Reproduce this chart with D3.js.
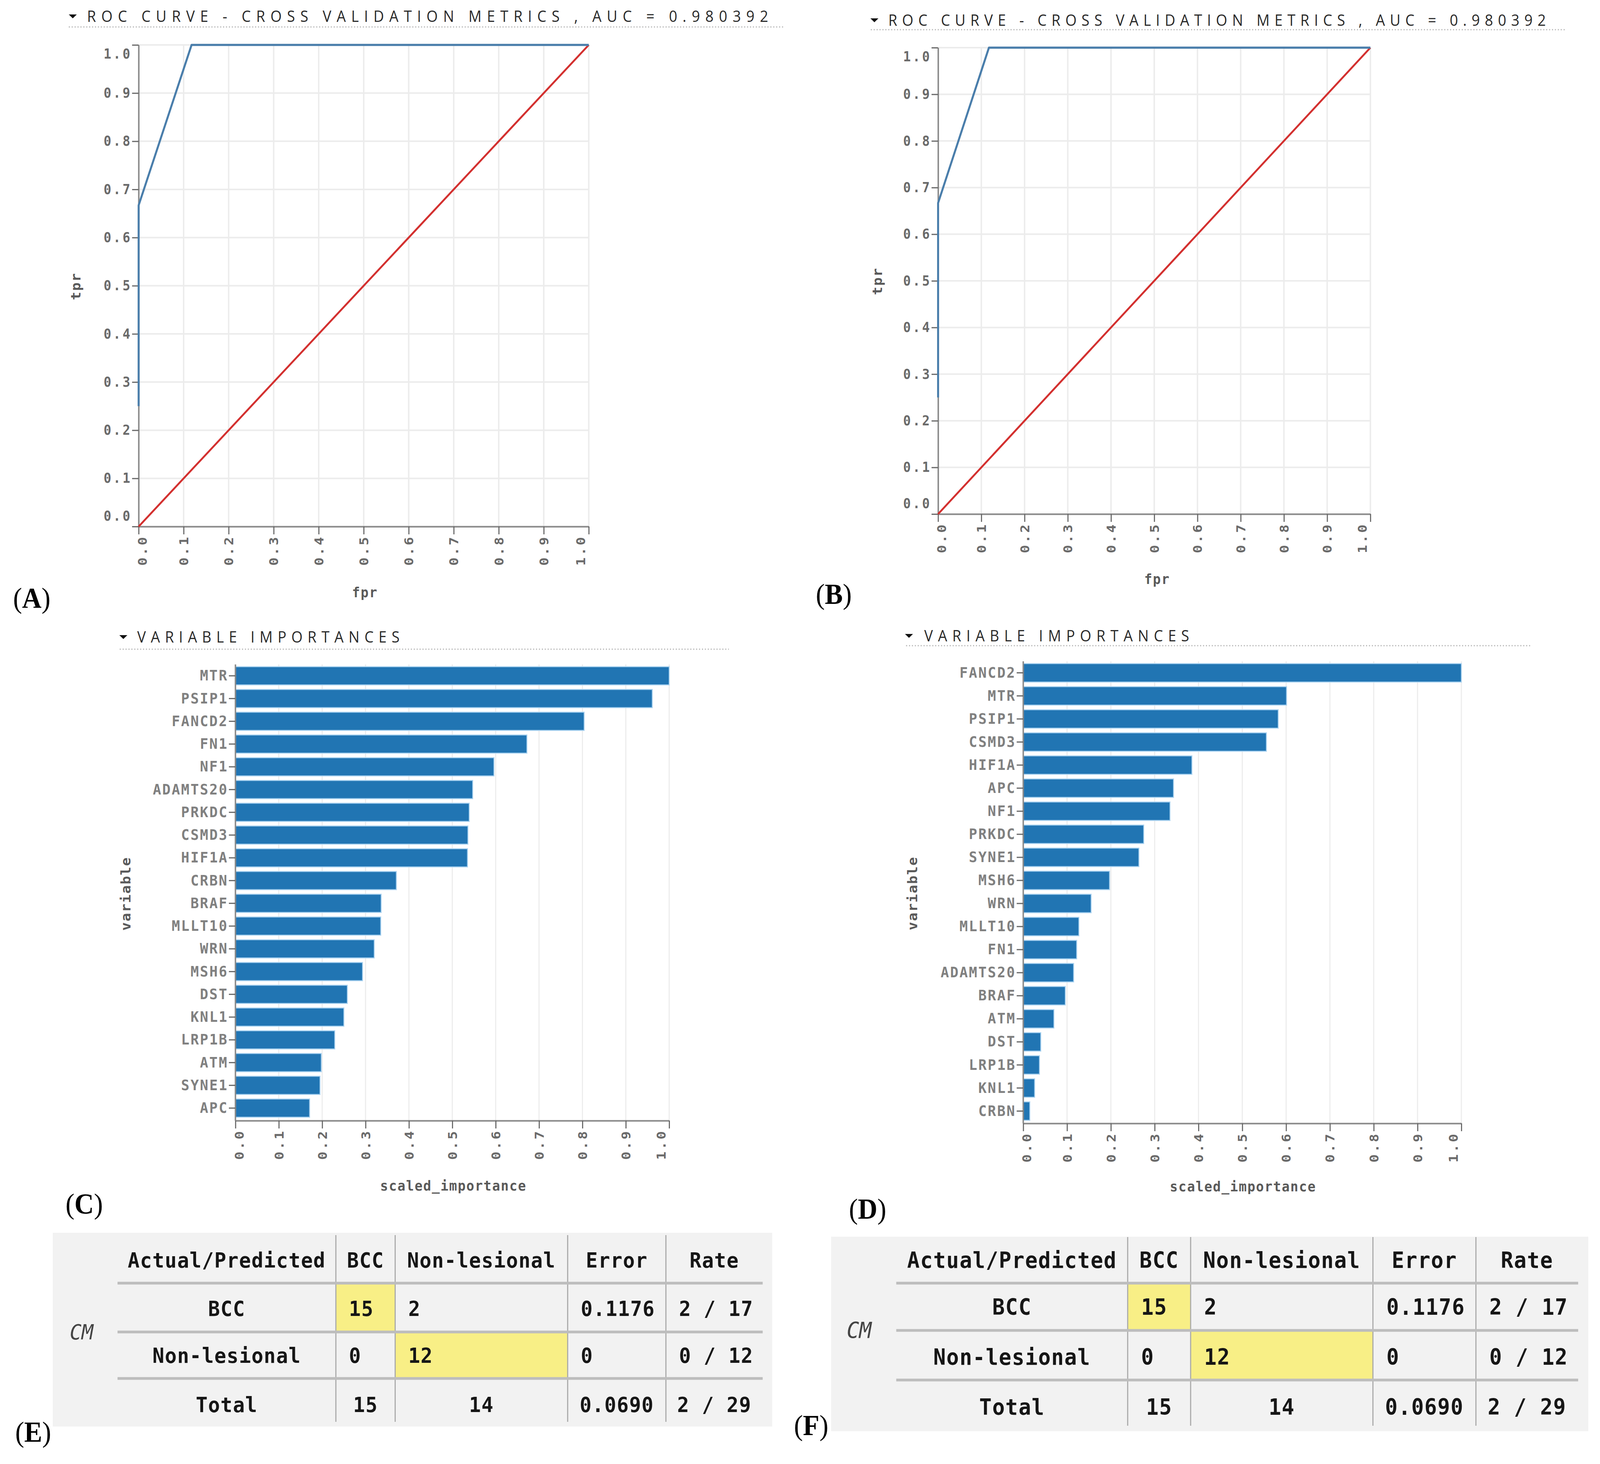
<!DOCTYPE html>
<html>
<head>
<meta charset="utf-8">
<script src="https://cdn.jsdelivr.net/npm/d3@7"></script>
<style>
  html, body { margin: 0; padding: 0; background: #fff; overflow: hidden; }
  svg { display: block; width: 100vw; height: 100vh; }
</style>
</head>
<body>
<svg id="figure"></svg>
<script>
// ---- data ----
const rocFprA = [0, 0, 0.1176, 1];
const rocTprA = [0.25, 0.667, 1, 1];
const rocFprB = [0, 0, 0.1176, 1];
const rocTprB = [0.25, 0.667, 1, 1];
const chanceFpr = [0, 1];
const chanceTpr = [0, 1];
const rocTitle = "ROC CURVE - CROSS VALIDATION METRICS , AUC = 0.980392";

const genesC = ["MTR", "PSIP1", "FANCD2", "FN1", "NF1", "ADAMTS20", "PRKDC", "CSMD3", "HIF1A", "CRBN",
                "BRAF", "MLLT10", "WRN", "MSH6", "DST", "KNL1", "LRP1B", "ATM", "SYNE1", "APC"];
const importanceC = [1.0, 0.961, 0.804, 0.672, 0.596, 0.547, 0.539, 0.536, 0.535, 0.371,
                     0.336, 0.335, 0.320, 0.293, 0.258, 0.250, 0.229, 0.198, 0.195, 0.171];
const genesD = ["FANCD2", "MTR", "PSIP1", "CSMD3", "HIF1A", "APC", "NF1", "PRKDC", "SYNE1", "MSH6",
                "WRN", "MLLT10", "FN1", "ADAMTS20", "BRAF", "ATM", "DST", "LRP1B", "KNL1", "CRBN"];
const importanceD = [1.0, 0.601, 0.582, 0.555, 0.385, 0.343, 0.335, 0.275, 0.264, 0.197,
                     0.155, 0.127, 0.122, 0.115, 0.096, 0.070, 0.040, 0.037, 0.026, 0.015];
const impTitle = "VARIABLE IMPORTANCES";

const cmHeader = ["Actual/Predicted", "BCC", "Non-lesional", "Error", "Rate"];
const cmRowBCC = ["BCC", "15", "2", "0.1176", "2 / 17"];
const cmRowNon = ["Non-lesional", "0", "12", "0", "0 / 12"];
const cmRowTotal = ["Total", "15", "14", "0.0690", "2 / 29"];
const cmHighlight = [[0, 1], [1, 2]];   // [data row, column] of the diagonal cells

// ---- layout ----
const W = 4397, H = 3748;
const mono = "'DejaVu Sans Mono', monospace";
const serif = "'Liberation Serif', 'Times New Roman', serif";

const rocA = {left: 381, right: 1618, top: 115, bottom: 1348,
  title: {tri: 200, x: 239, end: 2111, cy: 42, ux0: 189, ux1: 2156, uy: 69},
  yTitle: [209, 733], xTitle: [1003, 1517]};
const rocB = {left: 2578, right: 3766, top: 122, bottom: 1316,
  title: {tri: 2403, x: 2441, end: 4248, cy: 52, ux0: 2393, ux1: 4304, uy: 76},
  yTitle: [2411, 720], xTitle: [3180, 1483]};
const impC = {left: 647, right: 1839, top: 1701, bottom: 2866, axisY: 2869,
  title: {tri: 339, x: 377, end: 1098, cy: 1631, ux0: 329, ux1: 2003, uy: 1662},
  yTitle: [346, 2288], xTitle: [1246, 3036]};
const impD = {left: 2812, right: 4016, top: 1693, bottom: 2874, axisY: 2876,
  title: {tri: 2498, x: 2540, end: 3268, cy: 1628, ux0: 2490, ux1: 4206, uy: 1653},
  yTitle: [2508, 2287], xTitle: [3416, 3038]};
const tabE = {box: [145, 3156, 2122, 3652], cols: [323, 923, 1086, 1560, 1830, 2096],
  rowY: [3226, 3350, 3470, 3596], sepY: [3285, 3410, 3529], vTop: 3162, vBottom: 3640,
  cm: [224, 3410], fs: 54, ls: 1.5, pad: 36};
const tabF = {box: [2284, 3166, 4365, 3664], cols: [2463, 3099, 3272, 3773, 4056, 4337],
  rowY: [3226, 3346, 3474, 3602], sepY: [3285, 3406, 3533], vTop: 3167, vBottom: 3650,
  cm: [2361, 3406], fs: 57, ls: 1.7, pad: 37};
const tags = [
  {t: "A", x: 36, y: 1556}, {t: "B", x: 2242, y: 1546},
  {t: "C", x: 180, y: 3107}, {t: "D", x: 2333, y: 3120},
  {t: "E", x: 42, y: 3691}, {t: "F", x: 2182, y: 3674}
];

// the drawing is laid out in a 4397 x 3748 user space and stretched to the window
const svg = d3.select("#figure")
  .attr("viewBox", `0 0 ${W} ${H}`)
  .attr("preserveAspectRatio", "none");
svg.append("rect").attr("width", W).attr("height", H).attr("fill", "#fff");

const fmt = d3.format(".1f");

// section heading with the small disclosure triangle and dotted rule
function drawTitle(t, label) {
  const g = svg.append("g");
  g.append("path")
    .attr("d", `M${t.tri - 11},${t.cy - 5}L${t.tri + 11},${t.cy - 5}L${t.tri},${t.cy + 5}Z`)
    .attr("fill", "#111");
  g.append("text")
    .attr("x", t.x).attr("y", t.cy + 14)
    .attr("textLength", t.end - t.x).attr("lengthAdjust", "spacing")
    .style("font-family", "'Open Sans', sans-serif").style("font-size", "40px")
    .style("fill", "#2a2a2a")
    .text(label);
  g.append("line")
    .attr("x1", t.ux0).attr("x2", t.ux1).attr("y1", t.uy).attr("y2", t.uy)
    .attr("stroke", "#b5b5b5").attr("stroke-width", 3).attr("stroke-dasharray", "3,5");
}

function styleAxis(g, labelColor, size, spacing) {
  g.attr("font-size", null).attr("font-family", null);
  g.select(".domain").attr("stroke", "#8a8a8a").attr("stroke-width", 4);
  g.selectAll(".tick line").attr("stroke", "#666").attr("stroke-width", 3);
  g.selectAll(".tick text")
    .style("font-family", mono).style("font-size", size + "px").style("font-weight", "bold")
    .style("letter-spacing", spacing + "px").attr("fill", labelColor);
}

// rotated, flush x tick labels like the original vega charts
function rotateXLabels(g, offset) {
  const n = g.selectAll(".tick text").size();
  g.selectAll(".tick text")
    .attr("transform", "rotate(-90)")
    .attr("x", -offset).attr("y", 0)
    .attr("dy", (d, i) => i === 0 ? "22px" : (i === n - 1 ? "-10px" : "0.35em"))
    .style("text-anchor", "end");
}

function axisTitle(pos, label, rotate) {
  svg.append("text")
    .attr("transform", `translate(${pos[0]},${pos[1]})` + (rotate ? " rotate(-90)" : ""))
    .attr("text-anchor", "middle").attr("dominant-baseline", "central")
    .style("font-family", mono).style("font-size", "36px").style("font-weight", "bold")
    .style("letter-spacing", "2px").style("fill", "#5a5a5a")
    .text(label);
}

function drawRoc(L, fpr, tpr) {
  drawTitle(L.title, rocTitle);
  const x = d3.scaleLinear().domain([0, 1]).range([L.left, L.right]);
  const y = d3.scaleLinear().domain([0, 1]).range([L.bottom, L.top]);
  const g = svg.append("g");

  g.selectAll(".vgrid").data(x.ticks(10)).enter().append("line")
    .attr("x1", d => x(d)).attr("x2", d => x(d)).attr("y1", L.top).attr("y2", L.bottom)
    .attr("stroke", "#ececec").attr("stroke-width", 4);
  g.selectAll(".hgrid").data(y.ticks(10)).enter().append("line")
    .attr("x1", L.left).attr("x2", L.right).attr("y1", d => y(d)).attr("y2", d => y(d))
    .attr("stroke", "#ececec").attr("stroke-width", 4);

  const yAxis = g.append("g").attr("transform", `translate(${L.left},0)`)
    .call(d3.axisLeft(y).ticks(10).tickFormat(fmt).tickSize(18).tickSizeOuter(0).tickPadding(0));
  styleAxis(yAxis, "#6a6a6a", 35, 5);
  const ny = yAxis.selectAll(".tick text").size();
  yAxis.selectAll(".tick text")
    .attr("dy", (d, i) => i === 0 ? "-0.45em" : (i === ny - 1 ? "1.0em" : "0.32em"));

  const xAxis = g.append("g").attr("transform", `translate(0,${L.bottom})`)
    .call(d3.axisBottom(x).ticks(10).tickFormat(fmt).tickSize(20).tickSizeOuter(0));
  styleAxis(xAxis, "#6a6a6a", 35, 5);
  rotateXLabels(xAxis, 22);

  const pts = d3.zip(fpr, tpr);
  const line = d3.line().x(d => x(d[0])).y(d => y(d[1]));
  g.append("path").datum(d3.zip(chanceFpr, chanceTpr)).attr("d", line)
    .attr("fill", "none").attr("stroke", "#d3302f").attr("stroke-width", 5);
  g.append("path").datum(pts).attr("d", line)
    .attr("fill", "none").attr("stroke", "#4a7eab").attr("stroke-width", 5.5)
    .attr("stroke-linejoin", "round");

  axisTitle(L.yTitle, "tpr", true);
  axisTitle(L.xTitle, "fpr", false);
}

function drawBars(L, genes, vals) {
  drawTitle(L.title, impTitle);
  const x = d3.scaleLinear().domain([0, 1]).range([L.left, L.right]);
  const y = d3.scaleBand().domain(genes).range([L.top, L.bottom])
    .paddingInner(0.2).paddingOuter(0.1);
  const g = svg.append("g");

  g.selectAll(".vgrid").data(x.ticks(10)).enter().append("line")
    .attr("x1", d => x(d)).attr("x2", d => x(d)).attr("y1", L.top).attr("y2", L.axisY)
    .attr("stroke", "#ececec").attr("stroke-width", 3);

  g.selectAll(".bar").data(d3.zip(genes, vals)).enter().append("rect")
    .attr("x", x(0)).attr("y", d => y(d[0]))
    .attr("width", d => x(d[1]) - x(0)).attr("height", y.bandwidth())
    .attr("fill", "#2175b3").attr("stroke", "#a9d2f0").attr("stroke-width", 2.5);

  const yAxis = g.append("g").attr("transform", `translate(${L.left},0)`)
    .call(d3.axisLeft(y).tickSize(18).tickSizeOuter(0).tickPadding(2));
  styleAxis(yAxis, "#808080", 38, 3);
  yAxis.select(".domain").attr("d", `M0,${L.top}V${L.axisY}`);

  const xAxis = g.append("g").attr("transform", `translate(0,${L.axisY})`)
    .call(d3.axisBottom(x).ticks(10).tickFormat(fmt).tickSize(20).tickSizeOuter(0));
  styleAxis(xAxis, "#6a6a6a", 35, 5);
  rotateXLabels(xAxis, 22);

  axisTitle(L.yTitle, "variable", true);
  axisTitle(L.xTitle, "scaled_importance", false);
}

function drawTable(T) {
  const rows = [cmRowBCC, cmRowNon, cmRowTotal];
  const c = T.cols;
  const rowTop = [T.sepY[0], T.sepY[1]];
  const rowBot = [T.sepY[1], T.sepY[2]];
  const g = svg.append("g");

  g.append("rect").attr("x", T.box[0]).attr("y", T.box[1])
    .attr("width", T.box[2] - T.box[0]).attr("height", T.box[3] - T.box[1])
    .attr("fill", "#f2f2f2");

  g.selectAll(".hl").data(cmHighlight).enter().append("rect")
    .attr("x", d => c[d[1]]).attr("y", d => rowTop[d[0]] + 3)
    .attr("width", d => c[d[1] + 1] - c[d[1]]).attr("height", d => rowBot[d[0]] - rowTop[d[0]] - 6)
    .attr("fill", "#f8ef86");

  g.selectAll(".vl").data(c.slice(1, 5)).enter().append("line")
    .attr("x1", d => d).attr("x2", d => d).attr("y1", T.vTop).attr("y2", T.vBottom)
    .attr("stroke", "#a8a8a8").attr("stroke-width", 3);
  g.selectAll(".hl2").data(T.sepY).enter().append("line")
    .attr("x1", c[0]).attr("x2", c[5]).attr("y1", d => d).attr("y2", d => d)
    .attr("stroke", "#bdbdbd").attr("stroke-width", 7);

  const cellText = (sel, fs, ls) => sel
    .style("font-family", mono).style("font-size", fs + "px").style("font-weight", "bold")
    .style("letter-spacing", ls + "px").style("fill", "#161616")
    .attr("dominant-baseline", "central");

  cellText(g.selectAll(".hd").data(cmHeader).enter().append("text")
    .attr("x", (d, i) => (c[i] + c[i + 1]) / 2).attr("y", T.rowY[0])
    .attr("text-anchor", "middle").text(d => d), T.fs, T.ls);

  rows.forEach((row, r) => {
    const total = r === 2;
    cellText(g.selectAll(".r" + r).data(row).enter().append("text")
      .attr("x", (d, i) => (i === 0 || total) ? (c[i] + c[i + 1]) / 2 : c[i] + T.pad)
      .attr("y", T.rowY[r + 1])
      .attr("text-anchor", (d, i) => (i === 0 || total) ? "middle" : "start")
      .text(d => d), T.fs, T.ls);
  });

  g.append("text").attr("x", T.cm[0]).attr("y", T.cm[1])
    .attr("text-anchor", "middle").attr("dominant-baseline", "central")
    .style("font-family", mono).style("font-size", T.fs + "px").style("font-style", "italic")
    .style("fill", "#444").text("CM");
}

drawRoc(rocA, rocFprA, rocTprA);
drawRoc(rocB, rocFprB, rocTprB);
drawBars(impC, genesC, importanceC);
drawBars(impD, genesD, importanceD);
drawTable(tabE);
drawTable(tabF);

// panel letters
const tg = svg.selectAll(".tag").data(tags).enter().append("text")
  .attr("x", d => d.x).attr("y", d => d.y)
  .style("font-family", serif).style("font-size", "74px").style("fill", "#000");
tg.append("tspan").text("(");
tg.append("tspan").style("font-weight", "bold").text(d => d.t);
tg.append("tspan").text(")");
</script>
</body>
</html>
